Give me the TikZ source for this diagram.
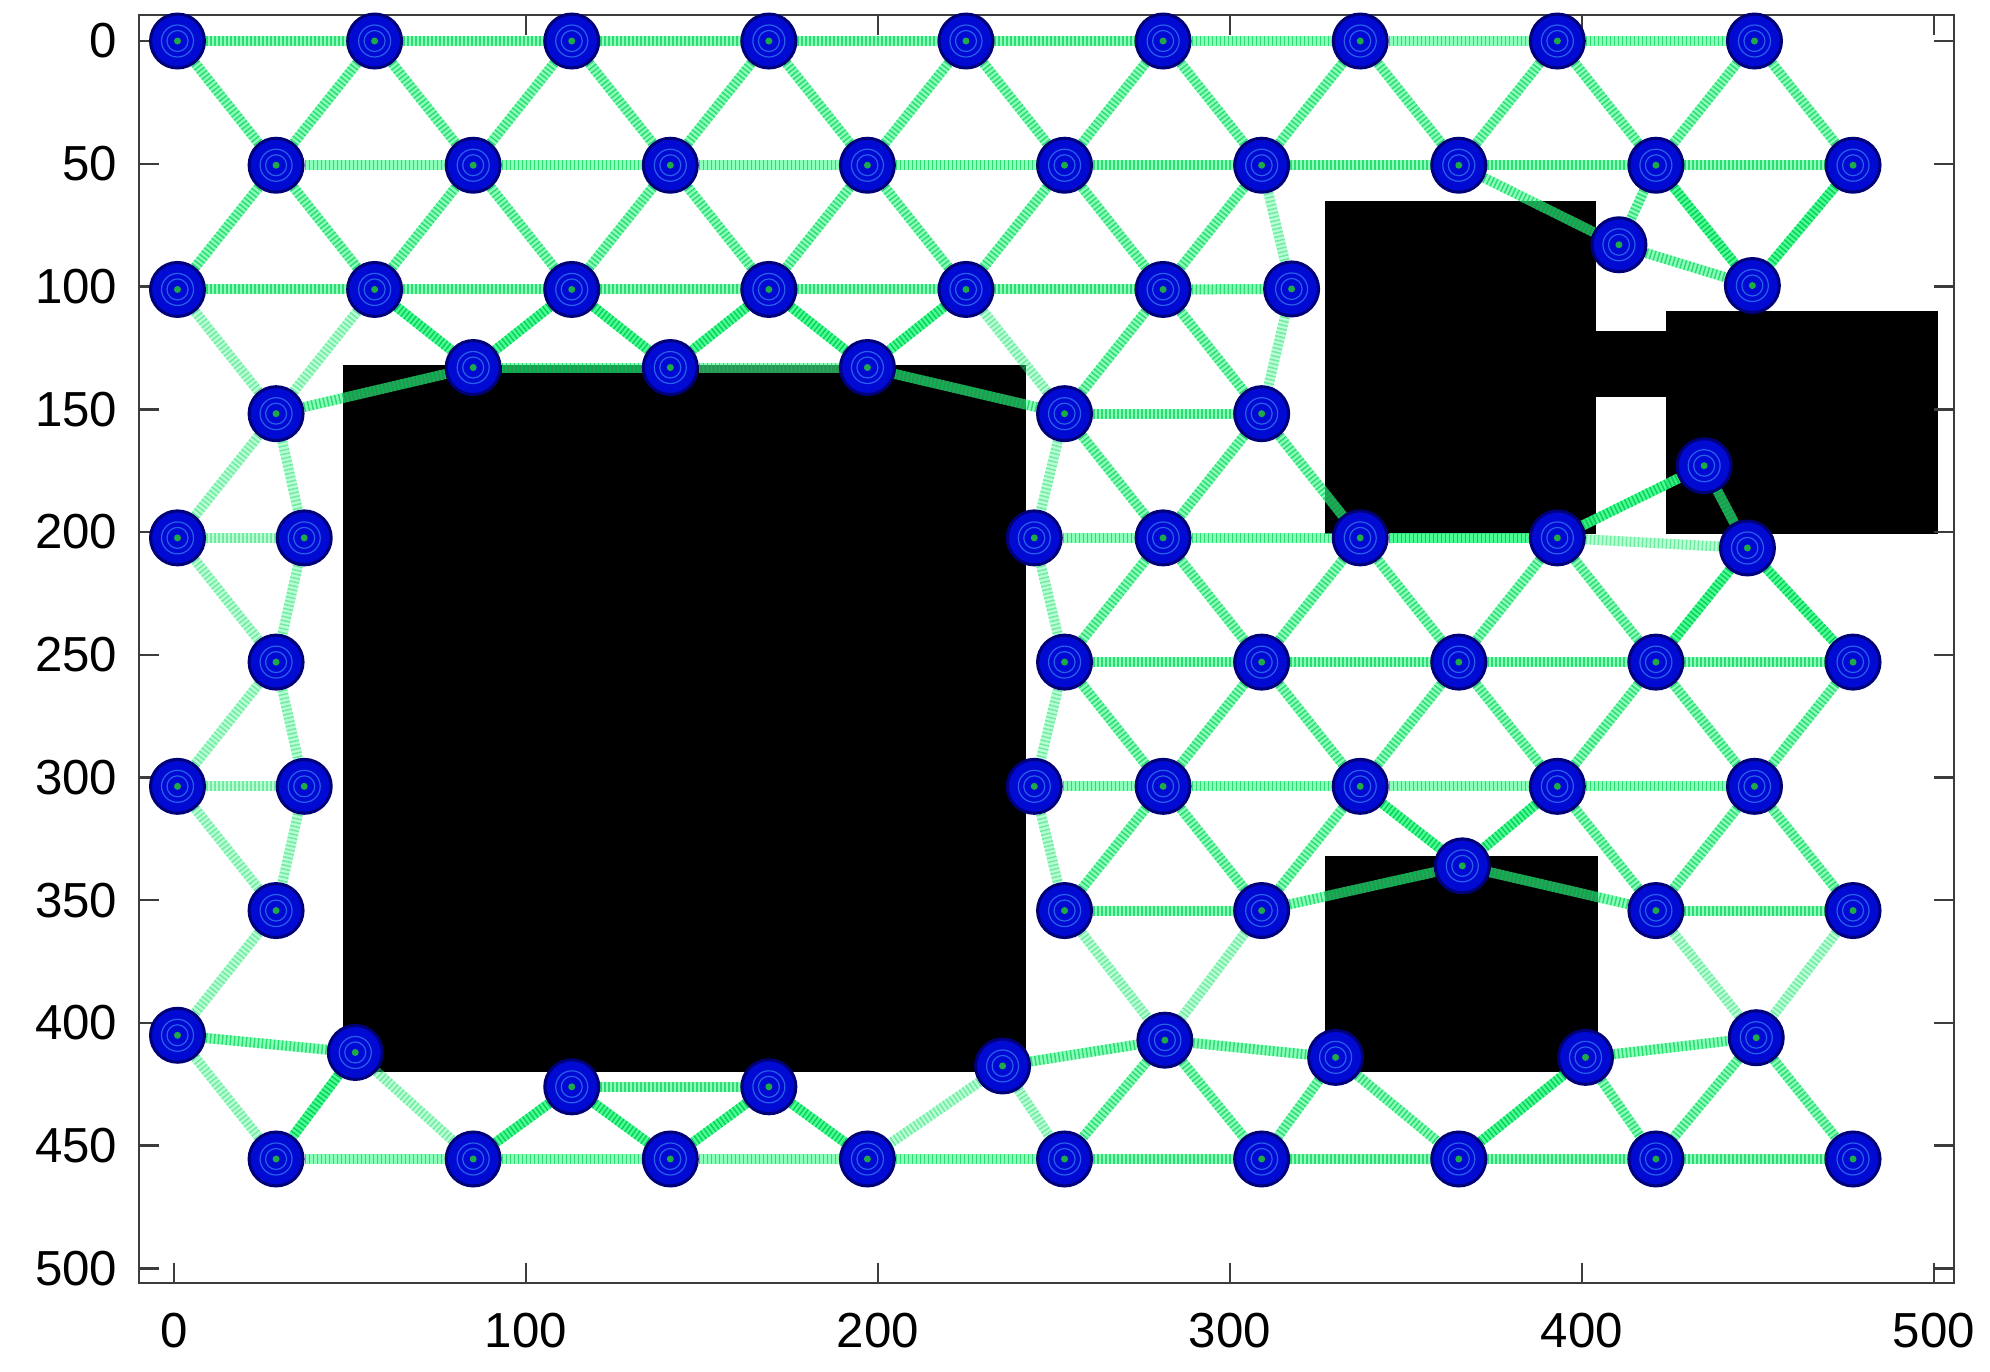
\documentclass[tikz,border=0pt]{standalone}
\usepackage{fontspec}
\setmainfont{Liberation Sans}
\definecolor{nodefill}{RGB}{0,10,210}
\definecolor{nodeedge}{RGB}{0,0,120}
\definecolor{nodering}{RGB}{40,95,235}
\definecolor{nodedot}{RGB}{30,170,70}
\definecolor{egbase}{RGB}{60,255,140}
\definecolor{egdash}{RGB}{0,200,80}
\definecolor{axisgray}{RGB}{60,60,60}
\pgfdeclarelayer{bg}
\pgfdeclarelayer{edgelayer}
\pgfsetlayers{bg,edgelayer,main}
\tikzset{
  rb/.style={circle, minimum size=5.4mm, inner sep=0pt, fill=nodefill, draw=nodeedge, line width=0.3mm,
    path picture={
      \draw[line width=0.12mm, nodering] (path picture bounding box.center) circle (1.6mm) circle (1.05mm);
      \fill[nodedot] (path picture bounding box.center) circle (0.35mm);}},
  ed/.style={line width=1mm, draw=egdash, draw opacity=0.65, dash pattern=on 0.15mm off 0.25mm,
    preaction={draw=egbase, draw opacity=0.6, solid, line width=1mm}},
  edf/.style={line width=1mm, draw=egdash, draw opacity=0.38, dash pattern=on 0.15mm off 0.25mm,
    preaction={draw=egbase, draw opacity=0.36, solid, line width=1mm}},
  edb/.style={line width=1mm, draw=egdash, draw opacity=0.85, dash pattern=on 0.15mm off 0.25mm,
    preaction={draw=egbase, draw opacity=0.92, solid, line width=1mm}},
  axisline/.style={draw=axisgray, line width=0.25mm},
  lab/.style={inner sep=0pt, font=\fontsize{14}{16}\selectfont},
}
\begin{document}
\begin{tikzpicture}[x=0.352mm, y=-0.2455mm]
\begin{pgfonlayer}{bg}
\path[use as bounding box, fill=white] (-49.43,-16.70) rectangle (515.91,542.16);
% obstacles
\fill[black] (48,132) rectangle (242,420);
\fill[black] (327,65) rectangle (404,201);
\fill[black] (403.5,118) rectangle (424.5,145);
\fill[black] (424,110) rectangle (501,201);
\fill[black] (327,332) rectangle (404.5,420);
\end{pgfonlayer}
% axes
\draw[axisline] (-10,-10.6) rectangle (505.7,506);
\foreach \t in {0,100,...,500} {
  \draw[axisline] (\t,506) -- ++(0,2mm);
  \draw[axisline] (\t,-10.6) -- ++(0,-2mm);
  \node[lab, anchor=north] (xl\t) at (\t,518) {\t};
}
\foreach \t in {0,50,...,500} {
  \draw[axisline] (-10,\t) -- ++(2mm,0);
  \draw[axisline] (505.7,\t) -- ++(-2mm,0);
  \node[lab, anchor=east] (yl\t) at (-15.9,\t) {\t};
}
% nodes
\foreach \k in {0,...,8} {
  \node[rb] (a\k) at ({1+56*\k},0) {};
  \node[rb] (b\k) at ({29+56*\k},50.6) {};
  \node[rb] (j\k) at ({29+56*\k},455.4) {};
}
\foreach \k in {0,...,5} { \node[rb] (c\k) at ({1+56*\k},101.2) {}; }
\node[rb] (c6) at (317.5,101) {};
\node[rb] (p1) at (410.5,83) {};
\node[rb] (p2) at (448.4,99.6) {};
\node[rb] (d0) at (29,151.8) {};
\node[rb] (d1) at (85,133) {};
\node[rb] (d2) at (141,133) {};
\node[rb] (d3) at (197,133) {};
\node[rb] (d4) at (253,151.8) {};
\node[rb] (d5) at (309,151.8) {};
\node[rb] (e0) at (1,202.4) {};
\node[rb] (e1) at (37,202.4) {};
\node[rb] (e2) at (244.4,202.4) {};
\node[rb] (e3) at (281,202.4) {};
\node[rb] (e4) at (337,202.4) {};
\node[rb] (e5) at (393,202.4) {};
\node[rb] (q1) at (434.7,173) {};
\node[rb] (q2) at (447,206.5) {};
\node[rb] (f0) at (29,253) {};
\node[rb] (f1) at (253,253) {};
\node[rb] (f2) at (309,253) {};
\node[rb] (f3) at (365,253) {};
\node[rb] (f4) at (421,253) {};
\node[rb] (f5) at (477,253) {};
\node[rb] (g0) at (1,303.6) {};
\node[rb] (g1) at (37,303.6) {};
\node[rb] (g2) at (244.4,303.6) {};
\node[rb] (g3) at (281,303.6) {};
\node[rb] (g4) at (337,303.6) {};
\node[rb] (g5) at (393,303.6) {};
\node[rb] (g6) at (449,303.6) {};
\node[rb] (h0) at (29,354.2) {};
\node[rb] (h1) at (253,354.2) {};
\node[rb] (h2) at (309,354.2) {};
\node[rb] (h3) at (366,336) {};
\node[rb] (h4) at (421,354.2) {};
\node[rb] (h5) at (477,354.2) {};
\node[rb] (i0) at (1,405) {};
\node[rb] (i1) at (51.5,412) {};
\node[rb] (i2) at (113,426) {};
\node[rb] (i3) at (169,426) {};
\node[rb] (i4) at (235.4,417.5) {};
\node[rb] (i5) at (281.5,407) {};
\node[rb] (i6) at (330,414) {};
\node[rb] (i7) at (401,414) {};
\node[rb] (i8) at (449.5,406) {};
% edges
\begin{pgfonlayer}{edgelayer}
\foreach \k [evaluate=\k as \n using int(\k+1)] in {0,...,7} {
  \draw[ed] (a\k) -- (a\n);
  \draw[ed] (b\k) -- (b\n);
  \draw[ed] (j\k) -- (j\n);
  \draw[ed] (a\n) -- (b\k);
}
\foreach \k in {0,...,8} { \draw[ed] (a\k) -- (b\k); }
\foreach \k [evaluate=\k as \n using int(\k+1)] in {0,...,4} {
  \draw[ed] (c\k) -- (c\n);
  \draw[ed] (b\k) -- (c\k);
  \draw[ed] (b\k) -- (c\n);
}
\draw[ed] (b5) -- (c5);
\draw[edf] (b5) -- (c6);
\draw[ed] (c5) -- (c6);
\draw[ed] (b6) -- (p1);
\draw[ed] (b7) -- (p1);
\draw[edb] (b7) -- (p2);
\draw[edb] (b8) -- (p2);
\draw[ed] (p1) -- (p2);
% c-d
\draw[edf] (c0) -- (d0);
\draw[edf] (c1) -- (d0);
\draw[edb] (c1) -- (d1);
\draw[edb] (c2) -- (d1);
\draw[edb] (c2) -- (d2);
\draw[edb] (c3) -- (d2);
\draw[edb] (c3) -- (d3);
\draw[edb] (c4) -- (d3);
\draw[edf] (c4) -- (d4);
\draw[ed] (c5) -- (d4);
\draw[ed] (c5) -- (d5);
\draw[edf] (c6) -- (d5);
% d row
\draw[ed] (d0) -- (d1);
\draw[ed] (d1) -- (d2);
\draw[ed] (d2) -- (d3);
\draw[ed] (d3) -- (d4);
\draw[ed] (d4) -- (d5);
% d-e
\draw[edf] (d0) -- (e0);
\draw[edf] (d0) -- (e1);
\draw[edf] (d4) -- (e2);
\draw[ed] (d4) -- (e3);
\draw[ed] (d5) -- (e3);
\draw[ed] (d5) -- (e4);
% e row
\draw[edf] (e0) -- (e1);
\draw[ed] (e2) -- (e3);
\draw[ed] (e3) -- (e4);
\draw[edb] (e4) -- (e5);
\draw[edb] (e5) -- (q1);
\draw[ed] (q1) -- (q2);
\draw[edf] (e5) -- (q2);
% e-f
\draw[edf] (e0) -- (f0);
\draw[edf] (e1) -- (f0);
\draw[edf] (e2) -- (f1);
\draw[ed] (e3) -- (f1);
\draw[ed] (e3) -- (f2);
\draw[ed] (e4) -- (f2);
\draw[ed] (e4) -- (f3);
\draw[ed] (e5) -- (f3);
\draw[ed] (e5) -- (f4);
\draw[edb] (q2) -- (f4);
\draw[edb] (q2) -- (f5);
% f row
\draw[ed] (f1) -- (f2);
\draw[ed] (f2) -- (f3);
\draw[ed] (f3) -- (f4);
\draw[ed] (f4) -- (f5);
% f-g
\draw[edf] (f0) -- (g0);
\draw[edf] (f0) -- (g1);
\draw[edf] (f1) -- (g2);
\draw[ed] (f1) -- (g3);
\draw[ed] (f2) -- (g3);
\draw[ed] (f2) -- (g4);
\draw[ed] (f3) -- (g4);
\draw[ed] (f3) -- (g5);
\draw[ed] (f4) -- (g5);
\draw[ed] (f4) -- (g6);
\draw[ed] (f5) -- (g6);
% g row
\draw[edf] (g0) -- (g1);
\draw[ed] (g2) -- (g3);
\draw[ed] (g3) -- (g4);
\draw[ed] (g4) -- (g5);
\draw[ed] (g5) -- (g6);
% g-h
\draw[edf] (g0) -- (h0);
\draw[edf] (g1) -- (h0);
\draw[edf] (g2) -- (h1);
\draw[ed] (g3) -- (h1);
\draw[ed] (g3) -- (h2);
\draw[ed] (g4) -- (h2);
\draw[edb] (g4) -- (h3);
\draw[edb] (g5) -- (h3);
\draw[ed] (g5) -- (h4);
\draw[ed] (g6) -- (h4);
\draw[ed] (g6) -- (h5);
% h row
\draw[ed] (h1) -- (h2);
\draw[ed] (h2) -- (h3);
\draw[ed] (h3) -- (h4);
\draw[ed] (h4) -- (h5);
% h-i
\draw[edf] (h0) -- (i0);
\draw[edf] (h1) -- (i5);
\draw[edf] (h2) -- (i5);
\draw[edf] (h4) -- (i8);
\draw[edf] (h5) -- (i8);
% i row
\draw[ed] (i0) -- (i1);
\draw[ed] (i2) -- (i3);
\draw[ed] (i4) -- (i5);
\draw[ed] (i5) -- (i6);
\draw[ed] (i7) -- (i8);
% i-j
\draw[edf] (i0) -- (j0);
\draw[edb] (i1) -- (j0);
\draw[edf] (i1) -- (j1);
\draw[edb] (i2) -- (j1);
\draw[edb] (i2) -- (j2);
\draw[edb] (i3) -- (j2);
\draw[edb] (i3) -- (j3);
\draw[edf] (i4) -- (j3);
\draw[edf] (i4) -- (j4);
\draw[ed] (i5) -- (j4);
\draw[ed] (i5) -- (j5);
\draw[ed] (i6) -- (j5);
\draw[ed] (i6) -- (j6);
\draw[edb] (i7) -- (j6);
\draw[ed] (i7) -- (j7);
\draw[ed] (i8) -- (j7);
\draw[ed] (i8) -- (j8);
\end{pgfonlayer}
\end{tikzpicture}
\end{document}
